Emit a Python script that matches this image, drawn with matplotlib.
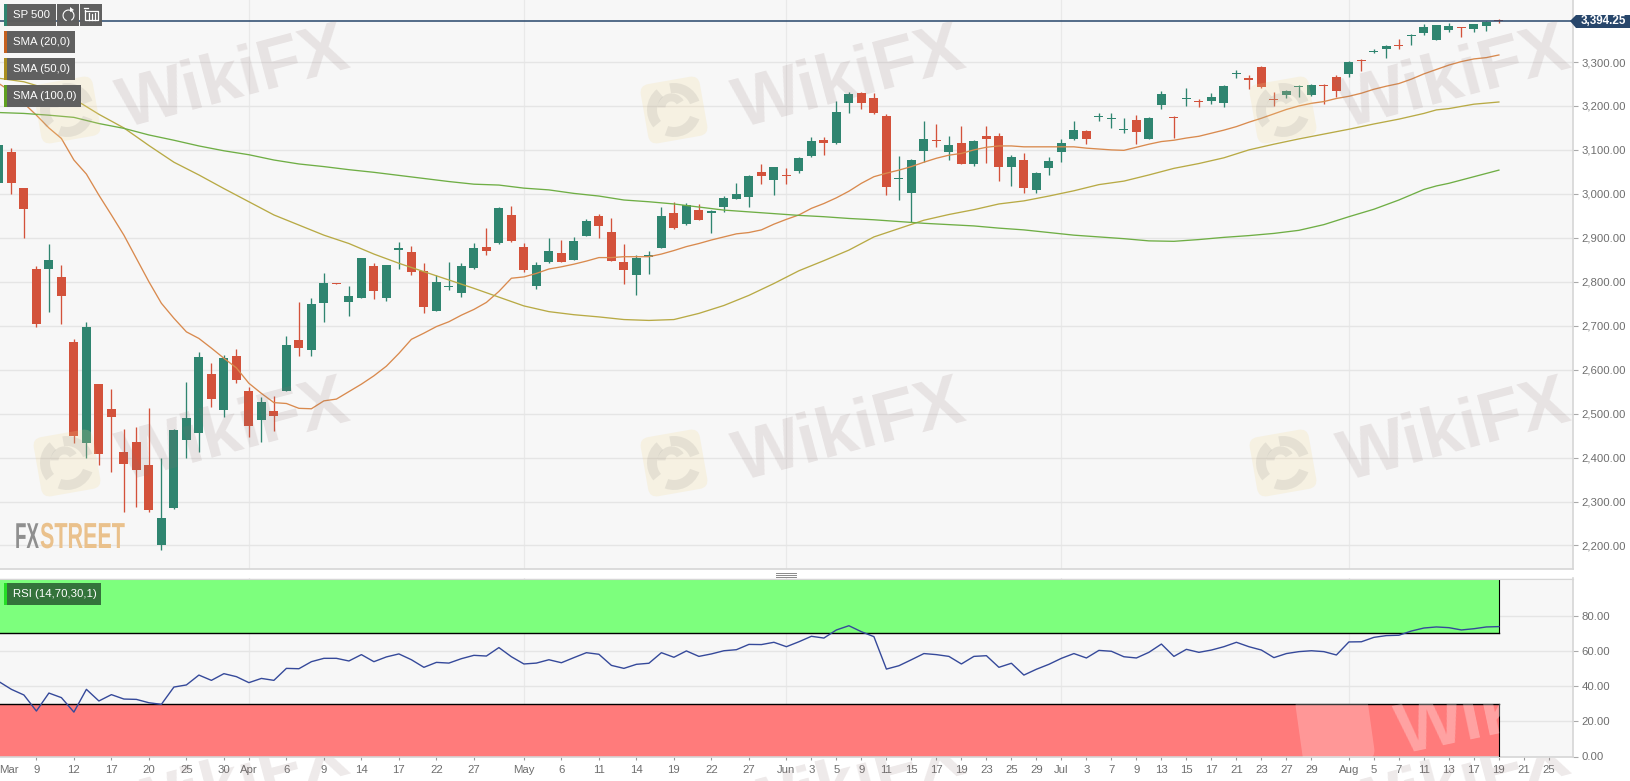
import matplotlib
matplotlib.use("Agg")
import matplotlib.pyplot as plt
import numpy as np
from matplotlib.patches import FancyBboxPatch, Rectangle, Polygon, Wedge
from matplotlib.patheffects import AbstractPathEffect
from matplotlib.transforms import Affine2D

plt.rcParams['font.family'] = ['Liberation Sans', 'DejaVu Sans']

# ---------- data: sessions are numbered, session 0 is the one labelled "9" in March ----------
first_session = -3
opens = [3024,3095,3013,2830,2829,2810,2662,2432,2568,2510,2413,2435,2383,2202,2285,2441,2455,2591,2508,2632,
         2551,2485,2505,2551,2667,2644,2752,2797,2754,2764,2836,2764,2873,2867,2825,2734,2788,2774,2832,2879,
         2888,2951,2880,2791,2845,2865,2849,2905,2949,2913,2845,2816,2857,2877,2956,2932,2963,2957,2969,2989,
         2993,3050,3032,3042,3053,3087,3122,3116,3206,3229,3218,3177,3033,3001,3097,3122,3095,3115,3069,3131,
         3132,3062,3078,3008,3058,3095,3125,3144,3174,3171,3146,3168,3125,3202,3174,3216,3211,3211,3207,3272,
         3264,3288,3216,3225,3243,3226,3248,3266,3272,3305,3322,3329,3338,3359,3367,3351,3373,3380,3376,3382,3395]
closes = [3111,3024,2965,2705,2849,2768,2450,2698,2409,2492,2386,2372,2281,2262,2463,2491,2628,2534,2626,2576,
          2471,2526,2495,2655,2650,2749,2797,2795,2768,2853,2778,2838,2876,2822,2743,2799,2791,2836,2876,2870,
          2968,2893,2827,2837,2869,2846,2892,2939,2927,2848,2827,2855,2860,2950,2923,2975,2941,2960,2990,2999,
          3040,3041,3060,3040,3081,3120,3116,3186,3228,3207,3185,3015,3036,3076,3125,3120,3111,3069,3121,3124,
          3062,3084,3014,3047,3074,3116,3146,3125,3176,3173,3148,3141,3173,3227,3172,3218,3209,3220,3245,3274,
          3258,3244,3214,3235,3245,3248,3246,3235,3299,3303,3326,3336,3336,3361,3380,3384,3382,3378,3386,3392,3393]
highs = [3111,3105,3013,2836,2887,2838,2670,2708,2568,2555,2464,2470,2512,2398,2466,2573,2641,2616,2633,2646,
         2560,2537,2539,2676,2753,2762,2819,2797,2790,2853,2843,2838,2891,2882,2842,2815,2846,2843,2889,2923,
         2969,2973,2889,2846,2899,2895,2902,2942,2955,2946,2885,2861,2871,2971,2982,2980,2978,2963,2995,3024,
         3043,3069,3062,3058,3083,3130,3129,3212,3232,3232,3229,3182,3087,3079,3166,3158,3132,3155,3122,3155,
         3139,3088,3092,3050,3084,3124,3165,3146,3183,3185,3172,3180,3175,3235,3178,3241,3216,3229,3247,3281,
         3270,3292,3232,3236,3247,3251,3251,3271,3302,3306,3330,3338,3353,3363,3386,3384,3388,3380,3387,3394,3398]
lows = [3024,3000,2899,2698,2732,2705,2432,2398,2383,2366,2275,2288,2277,2190,2282,2400,2413,2516,2493,2569,
        2447,2436,2460,2551,2632,2632,2709,2795,2721,2762,2760,2757,2830,2815,2728,2734,2781,2765,2828,2861,
        2886,2890,2823,2783,2842,2846,2849,2905,2899,2848,2795,2769,2817,2876,2919,2930,2940,2910,2959,2989,
        2971,3023,2998,3023,3048,3084,3088,3113,3185,3192,3181,2998,2986,2937,3073,3107,3078,3069,3063,3071,
        3030,3018,3003,3001,3043,3073,3122,3114,3166,3149,3138,3114,3125,3192,3128,3200,3198,3204,3198,3263,
        3238,3240,3200,3217,3221,3223,3204,3221,3265,3280,3320,3310,3330,3338,3362,3350,3369,3356,3369,3371,3389]

sma20_session = list(range(-3, 118))
sma20 = [3251,3232,3206,3179,3150,3126,3077,3045,2997,2952,2906,2853,2800,2751,2717,2686,2671,2649,2626,2604,
         2569,2546,2525,2523,2512,2511,2529,2533,2550,2567,2586,2608,2637,2669,2683,2698,2709,2724,2737,2753,
         2778,2808,2811,2819,2829,2834,2840,2847,2855,2855,2857,2857,2857,2863,2871,2880,2887,2895,2902,2909,
         2912,2918,2931,2942,2952,2967,2978,2991,3006,3024,3039,3047,3054,3062,3072,3081,3088,3092,3100,3106,
         3109,3109,3107,3107,3107,3107,3107,3104,3102,3100,3099,3106,3113,3119,3122,3127,3131,3138,3145,3153,
         3163,3172,3182,3192,3200,3206,3210,3217,3222,3229,3238,3245,3251,3261,3273,3283,3293,3301,3307,3310,3316]

sma50_session = [-3,-1,1,3,5,7,9,11,13,15,17,19,21,23,25,27,29,31,33,35,37,39,41,43,45,47,49,51,53,55,57,59,61,63,
                 65,67,69,71,73,75,77,79,81,83,85,87,89,91,93,95,97,99,101,103,105,107,109,111,112,113,115,117]
sma50 = [3263,3255,3238,3216,3181,3150,3110,3072,3043,3012,2982,2952,2929,2906,2887,2863,2842,2823,2804,2785,
         2765,2745,2732,2725,2720,2714,2712,2714,2728,2746,2769,2796,2825,2848,2872,2902,2921,2940,2953,2964,
         2977,2984,2995,3007,3021,3029,3043,3058,3069,3082,3100,3113,3125,3136,3147,3159,3170,3183,3191,3194,3204,3209]

sma100_session = [-3,-1,1,3,5,7,9,11,13,15,17,19,21,23,25,27,29,31,33,35,37,39,41,43,45,47,49,51,53,55,57,59,61,63,
                  65,67,69,71,73,75,77,79,81,83,85,87,89,91,93,95,97,99,101,103,105,107,109,111,112,113,115,117]
sma100 = [3185,3183,3179,3174,3160,3149,3134,3122,3109,3098,3089,3077,3068,3062,3055,3049,3042,3035,3028,3022,
          3020,3013,3009,3001,2995,2986,2982,2977,2970,2963,2959,2955,2951,2948,2944,2941,2937,2933,2930,2927,
          2922,2918,2912,2906,2902,2898,2893,2892,2896,2901,2905,2910,2917,2930,2948,2965,2986,3010,3018,3024,3039,3054]

rsi = [42.5,38.1,34.9,25.8,36.0,33.4,25.2,38.1,31.5,35.1,32.6,32.4,30.5,29.6,39.4,40.6,46.2,43.2,47.0,45.3,
       41.9,44.3,43.2,50.0,49.8,53.8,55.7,55.7,54.2,57.8,53.8,56.5,58.2,54.9,50.6,53.4,53.0,55.5,57.4,57.0,
       61.8,56.6,52.5,53.0,54.9,53.2,56.1,58.9,58.0,51.7,50.0,52.3,52.9,58.9,56.3,59.9,56.8,58.2,60.0,60.6,
       63.6,63.5,64.8,62.3,65.1,68.2,67.2,71.8,74.2,70.8,68.0,49.6,51.5,54.9,58.4,57.8,56.8,52.5,56.8,57.2,
       50.6,52.9,46.2,49.5,52.3,55.7,58.4,55.9,60.2,59.7,56.6,55.9,59.1,63.8,56.8,60.8,59.1,60.4,62.3,64.8,
       62.3,60.4,56.1,58.4,59.5,60.0,59.5,57.6,65.0,65.1,67.6,68.6,68.8,71.2,72.9,73.5,73.1,71.8,72.5,73.5,73.7]

tick_session = [0,3,6,9,12,15,17,20,23,26,29,32,35,39,42,45,48,51,54,57,60,62,64,66,68,70,72,74,76,78,80,82,
                84,86,88,90,92,94,96,98,100,102,105,107,109,111,113,115,117,119,121]
tick_labels = ['9','12','17','20','25','30','Apr','6','9','14','17','22','27','May','6','11','14','19','22','27',
               'Jun','3','5','9','11','15','17','19','23','25','29','Jul','3','7','9','13','15','17','21','23',
               '27','29','Aug','5','7','11','13','17','19','21','25']
month_session = [17,39,60,82,105]
price_ticks = list(range(2200, 3301, 100))
rsi_ticks = [0, 20, 40, 60, 80]
last_price = 3394.25
rsi_high, rsi_low = 70, 30

# ---------- styles ----------
W, H = 1630, 781
BG = '#F7F7F7'; GRID = '#E5E5E5'; FRAME = '#D6D6D6'; TXT = '#6E6E6E'
UP = '#2F8570'; DOWN = '#D3523B'
NAVY = '#27466B'

fig = plt.figure(figsize=(W/100, H/100), dpi=100, facecolor='white')
ax = fig.add_axes([0, (H-569)/H, 1573/W, 569/H], facecolor=BG)
ar = fig.add_axes([0, (H-757)/H, 1573/W, (757-578)/H], facecolor=BG)

px2i = lambda p: (p-36.4)/12.5
ax.set_xlim(px2i(0), px2i(1573))
ax.set_ylim(3300-(569-62)/0.4395, 3300+62/0.4395)
ar.set_xlim(px2i(0), px2i(1573))
ar.set_ylim((756.5-757)/1.7625, (756.5-578)/1.7625)

sessions = np.arange(first_session, first_session+len(opens))
o, c, hi, lo = map(np.array, (opens, closes, highs, lows))
up = c > o
cols = np.where(up, UP, DOWN)

for a in (ax, ar):
    a.grid(False)
    for m in month_session:
        a.axvline(m, color='#E9E9E9', lw=0.9, zorder=1)
    for s in ('top', 'left'):
        a.spines[s].set_visible(False)
    for s in ('right', 'bottom'):
        a.spines[s].set_color(FRAME)
        a.spines[s].set_linewidth(1.2)
    a.yaxis.tick_right()
    a.tick_params(axis='y', length=3.6, width=0.8, color='#AAAAAA', labelcolor=TXT, labelsize=8.2, pad=2.5)

ax.set_yticks(price_ticks)
ax.set_yticklabels([f'{v:,.2f}' for v in price_ticks])
for v in price_ticks:
    ax.axhline(v, color=GRID, lw=1, zorder=1)
ax.set_xticks([])

ax.vlines(sessions, lo, hi, colors=cols, lw=0.95, zorder=3)
ax.bar(sessions, np.abs(c-o), bottom=np.minimum(o, c), width=0.72, color=cols, zorder=4, linewidth=0)

ax.plot(sma20_session, sma20, color='#D98A4E', lw=0.95, zorder=5)
ax.plot(sma50_session, sma50, color='#B8AA45', lw=0.95, zorder=5)
ax.plot(sma100_session, sma100, color='#6FAE45', lw=0.95, zorder=5)
ax.axhline(last_price, color=NAVY, lw=1.1, zorder=6)

# RSI panel
ar.set_yticks(rsi_ticks)
ar.set_yticklabels([f'{v:.2f}' for v in rsi_ticks])
for v in rsi_ticks[1:]:
    ar.axhline(v, color=GRID, lw=1, zorder=1)
end_i = sessions[-1]
left_i = px2i(0)
ar.fill_between([left_i, end_i], [rsi_high]*2, [100]*2, color='#7DFF7D', lw=0, zorder=2)
ar.fill_between([left_i, end_i], [0]*2, [rsi_low]*2, color='#FF7B7B', lw=0, zorder=2)
ar.plot([left_i, end_i], [rsi_high]*2, color='black', lw=1, zorder=3)
ar.plot([left_i, end_i], [rsi_low]*2, color='black', lw=1, zorder=3)
ar.plot([end_i]*2, [rsi_high, 100], color='black', lw=0.8, zorder=3)
ar.plot([end_i]*2, [0, rsi_low], color='black', lw=0.8, zorder=3)
ar.plot(sessions, rsi, color='#35499A', lw=1.0, zorder=4)
ar.set_xticks(tick_session)
ar.set_xticklabels(tick_labels)
ar.tick_params(axis='x', length=2.5, width=0.8, color='#999999', labelcolor=TXT, labelsize=8.2, pad=3.5)

# ---------- overlay in pixel coordinates ----------
ov = fig.add_axes([0, 0, 1, 1], facecolor='none', zorder=10)
ov.set_xlim(0, W); ov.set_ylim(H, 0); ov.axis('off')

def logo(cx, cy, clip=None):
    tr = Affine2D().rotate_deg_around(cx, cy, -10) + ov.transData
    items = [FancyBboxPatch((cx-30, cy-30), 60, 60, boxstyle='round,pad=0,rounding_size=9',
                            fc='#F6D98F', ec='none', alpha=0.2, transform=tr)]
    for t1, t2 in ((30, 120), (150, 240), (270, 350)):
        items.append(Wedge((cx, cy), 27, t1, t2, width=10, fc='#7E7E7E', ec='none', alpha=0.14, transform=tr))
    items.append(Wedge((cx-2, cy-3), 14, 190, 340, width=8, fc='#7E7E7E', ec='none', alpha=0.14, transform=tr))
    for it in items:
        ov.add_patch(it)
        if clip is not None:
            it.set_clip_path(clip)

def mark(cx, cy, clip=None):
    t = ov.text(cx, cy, 'WikiFX', rotation=15, rotation_mode='anchor', ha='center', va='center',
                fontsize=51, fontweight='bold', color='#8C7070', alpha=0.15)
    if clip is not None:
        t.set_clip_path(clip)
        t.set_clip_on(True)

for cx_t, cx_l in ((234, 67), (850, 674), (1455, 1283)):
    for dy in (0, 353):
        mark(cx_t, 80+dy)
        logo(cx_l, 110+dy)
    bottom = Rectangle((0, 758), W, 23, transform=ov.transData)
    mark(cx_t, 786, clip=bottom)
    logo(cx_l, 816, clip=bottom)

# the watermark over the red RSI band
band = Rectangle((1290, 704), 209.5, 52.5, transform=ov.transData)
tr = Affine2D().rotate_deg_around(1335, 728, -8) + ov.transData
p = FancyBboxPatch((1299, 692), 72, 72, boxstyle='round,pad=0,rounding_size=10', fc='white', ec='none',
                   alpha=0.22, transform=tr)
ov.add_patch(p); p.set_clip_path(band)
t = ov.text(1513, 712, 'WikiFX', rotation=12, rotation_mode='anchor', ha='center', va='center', fontsize=51,
            fontweight='bold', color='white', alpha=0.3)
t.set_clip_path(band); t.set_clip_on(True)

# FXStreet mark: real text, stretched upward from its baseline to the mark's tall narrow shape
class Stretch(AbstractPathEffect):
    def __init__(self, sy, base):
        super().__init__()
        self.sy, self.base = sy, base
    def draw_path(self, renderer, gc, tpath, affine, rgbFace=None):
        aff = affine + Affine2D().translate(0, -self.base).scale(1, self.sy).translate(0, self.base)
        renderer.draw_path(gc, tpath, aff, rgbFace)

base_px = H-548
ov.text(15, 548, 'FX', fontsize=13.5, fontweight='bold', color='#8F8F8F', va='baseline', ha='left',
        path_effects=[Stretch(1.92, base_px)])
ov.text(40, 548, 'STREET', fontsize=15.5, fontweight='bold', color='#EAC18C', va='baseline', ha='left',
        path_effects=[Stretch(1.68, base_px)])

# Legend chips
def chip(x0, x1, y0, y1, fill, stripe, label=None, alpha=0.98):
    ov.add_patch(Rectangle((x0, y0), x1-x0, y1-y0, fc=fill, ec='none', alpha=alpha))
    if stripe:
        ov.add_patch(Rectangle((x0, y0), 3, y1-y0, fc=stripe, ec='none'))
    if label:
        ov.text(x0+9, (y0+y1)/2+0.3, label, color='white', fontsize=8.2, va='center', ha='left')

chip(4, 56, 4, 26, '#5D5D5D', '#2F8570', 'SP 500')
chip(57, 79, 4, 26, '#5D5D5D', None)
chip(80, 102, 4, 26, '#5D5D5D', None)
chip(4, 75, 31, 53, '#5D5D5D', '#C5601F', 'SMA (20,0)')
chip(4, 75, 58, 80, '#5D5D5D', '#A98D1F', 'SMA (50,0)')
chip(4, 81, 85, 107, '#5D5D5D', '#5FA020', 'SMA (100,0)')
chip(4, 101, 583, 605, '#33703A', '#25DD25', 'RSI (14,70,30,1)')
# reload and chart-type icons
ov.add_patch(Wedge((68.5, 15.5), 6, -250, 60, width=1.1, fc='white', ec='none'))
ov.add_patch(Polygon([[70, 7], [74, 10], [70, 12]], fc='white', ec='none'))
ov.plot([85, 85, 98, 98, 85], [10, 20, 20, 11, 11], color='white', lw=0.9)
ov.plot([89, 89], [13, 20], color='white', lw=0.9)
ov.plot([92, 92], [14, 20], color='white', lw=0.9)
ov.plot([95, 95], [13, 20], color='white', lw=0.9)
ov.plot([84, 88], [8, 8], color='white', lw=0.9)

# Last price tag
ov.add_patch(Polygon([[1570, 21], [1576, 15], [1630, 15], [1630, 28], [1576, 28]], fc=NAVY, ec='none'))
ov.text(1581, 21.3, f'{last_price:,.2f}', color='white', fontsize=8.4, fontweight='bold', va='center', ha='left')

# Month label at the clipped left edge, resize handle between the panels
ov.text(8.7, 770, 'Mar', color=TXT, fontsize=8.2, ha='center', va='center')
for y in (573, 575, 577):
    ov.plot([776, 796], [y, y], color='#8A8A8A', lw=0.7)
ov.plot([0, 1573], [578.5, 578.5], color=FRAME, lw=0.8)

fig.savefig('out.png', dpi=100, facecolor='white')
